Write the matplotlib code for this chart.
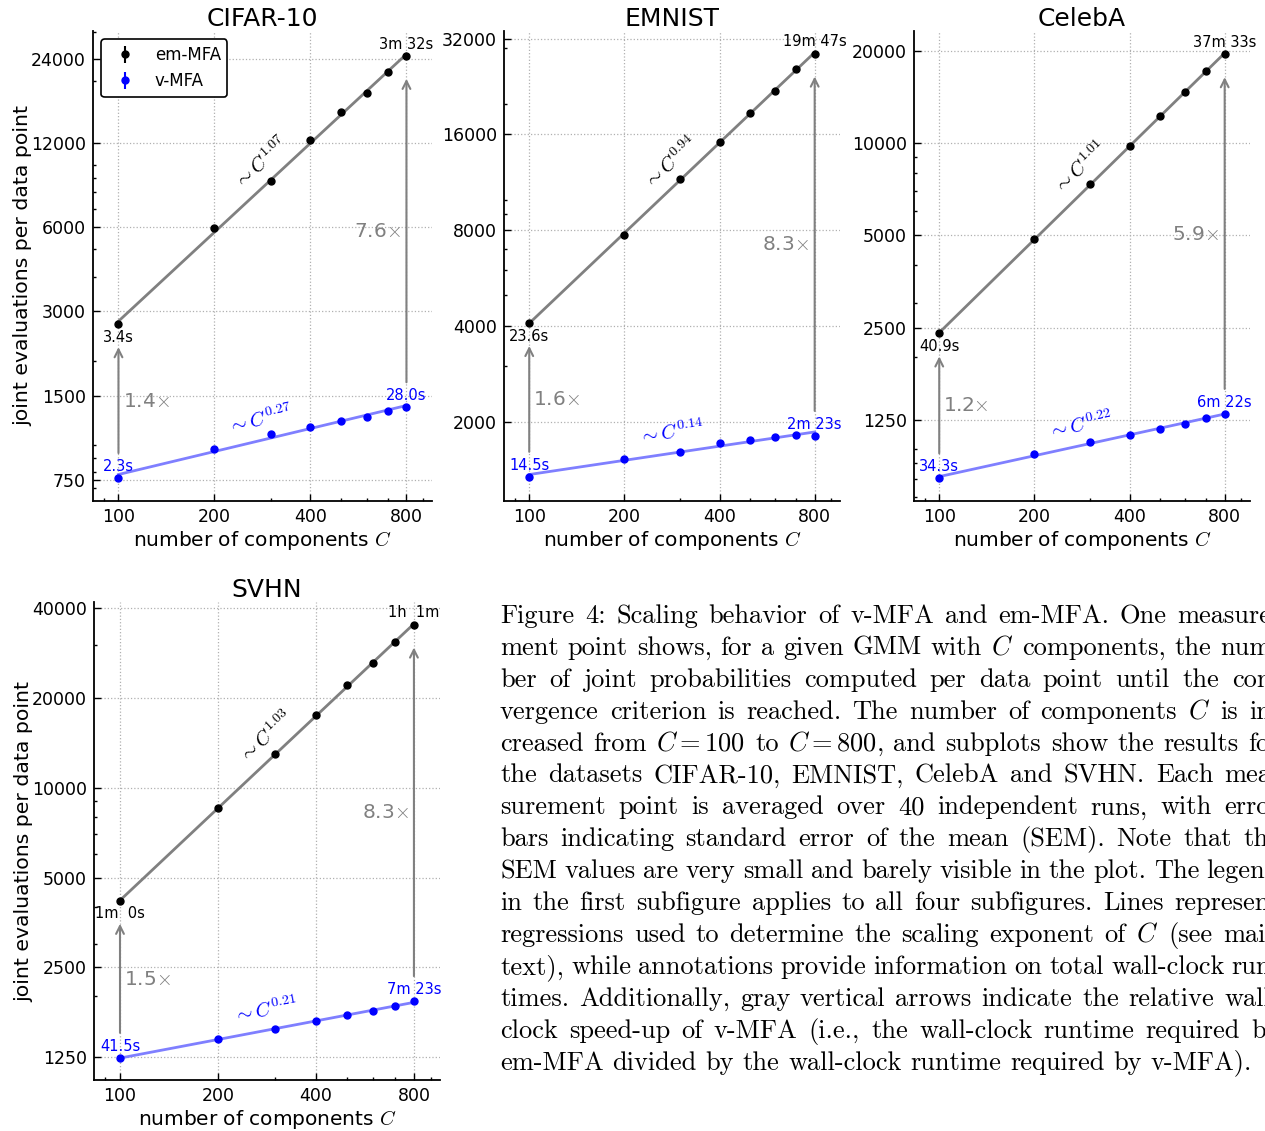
import numpy as np
import matplotlib
matplotlib.use('Agg')
import matplotlib.pyplot as plt
from matplotlib.ticker import FixedLocator, LogLocator, NullFormatter, FuncFormatter

plt.rcParams['mathtext.fontset'] = 'cm'

# ---- data ----
datasets = ['CIFAR-10', 'EMNIST', 'CelebA', 'SVHN']
components = [100, 200, 300, 400, 500, 600, 700, 800]

em_cifar = [2700, 5940, 8770, 12280, 15480, 18060, 21600, 24600]
v_cifar = [761, 965, 1092, 1156, 1219, 1263, 1324, 1363]
em_emnist = [4096, 7735, 11640, 15150, 18740, 21870, 25750, 28700]
v_emnist = [1348, 1533, 1610, 1722, 1762, 1794, 1822, 1812]
em_celeba = [2390, 4853, 7349, 9826, 12250, 14750, 17200, 19520]
v_celeba = [804, 968, 1058, 1114, 1162, 1210, 1270, 1305]
em_svhn = [4180, 8540, 12950, 17600, 22040, 26300, 30800, 35250]
v_svhn = [1245, 1439, 1551, 1652, 1728, 1787, 1861, 1928]
# SEM is too small to be seen in the plot
sem = [0, 0, 0, 0, 0, 0, 0, 0]

em_exponent = ['1.07', '0.94', '1.01', '1.03']
v_exponent = ['0.27', '0.14', '0.22', '0.21']
em_time_first = ['3.4s', '23.6s', '40.9s', '1m  0s']
em_time_last = ['3m 32s', '19m 47s', '37m 33s', '1h  1m']
v_time_first = ['2.3s', '14.5s', '34.3s', '41.5s']
v_time_last = ['28.0s', '2m 23s', '6m 22s', '7m 23s']
speedup_first = ['1.4', '1.6', '1.2', '1.5']
speedup_last = ['7.6', '8.3', '5.9', '8.3']

xticks = [100, 200, 400, 800]
yticks_cifar = [750, 1500, 3000, 6000, 12000, 24000]
yticks_emnist = [2000, 4000, 8000, 16000, 32000]
yticks_celeba = [1250, 2500, 5000, 10000, 20000]
yticks_svhn = [1250, 2500, 5000, 10000, 20000, 40000]

caption_lines = [
    "Figure 4: Scaling behavior of v-MFA and em-MFA. One measure-",
    "ment point shows, for a given GMM with $C$ components, the num-",
    "ber of joint probabilities computed per data point until the con-",
    "vergence criterion is reached. The number of components $C$ is in-",
    "creased from $C=100$ to $C=800$, and subplots show the results for",
    "the datasets CIFAR-10, EMNIST, CelebA and SVHN. Each mea-",
    "surement point is averaged over 40 independent runs, with error",
    "bars indicating standard error of the mean (SEM). Note that the",
    "SEM values are very small and barely visible in the plot. The legend",
    "in the first subfigure applies to all four subfigures. Lines represent",
    "regressions used to determine the scaling exponent of $C$ (see main",
    "text), while annotations provide information on total wall-clock run-",
    "times. Additionally, gray vertical arrows indicate the relative wall-",
    "clock speed-up of v-MFA (i.e., the wall-clock runtime required by",
    "em-MFA divided by the wall-clock runtime required by v-MFA).",
]

em_all = [em_cifar, em_emnist, em_celeba, em_svhn]
v_all = [v_cifar, v_emnist, v_celeba, v_svhn]
yticks_all = [yticks_cifar, yticks_emnist, yticks_celeba, yticks_svhn]
ylims = [(630, 30200), (1132, 33800), (678, 23250), (1049, 41960)]
xlim = (83.2, 962)

FIG_W, FIG_H = 1265, 1131
fig = plt.figure(figsize=(FIG_W / 100, FIG_H / 100), dpi=100)

# axes boxes in pixels: left, top, right, bottom
boxes = [(93, 31, 432, 501), (504, 31, 840, 501), (914, 31, 1250, 501), (94, 602, 440, 1080)]

GRAY = '#808080'
BLUE = '#0000ff'
LIGHTBLUE = '#7f7fff'


def px_box(b):
    l, t, r, btm = b
    return [l / FIG_W, 1 - btm / FIG_H, (r - l) / FIG_W, (btm - t) / FIG_H]


def fit_line(x, y):
    p = np.polyfit(np.log(x), np.log(y), 1)
    xs = np.array([x[0], x[-1]], dtype=float)
    return xs, np.exp(np.polyval(p, np.log(xs)))


for i, name in enumerate(datasets):
    ax = fig.add_axes(px_box(boxes[i]))
    ax.set_xscale('log', base=2)
    ax.set_yscale('log', base=2)
    ax.set_xlim(*xlim)
    ax.set_ylim(*ylims[i])

    em = em_all[i]
    v = v_all[i]
    fx_em, fy_em = fit_line(components, em)
    fx_v, fy_v = fit_line(components, v)

    ax.plot(fx_em, fy_em, color=GRAY, lw=2, zorder=2)
    ax.plot(fx_v, fy_v, color=LIGHTBLUE, lw=2, zorder=2)
    ax.errorbar(components, em, yerr=sem, fmt='o', color='k', ms=5,
                elinewidth=1.5, capsize=0, label='em-MFA', zorder=3)
    ax.errorbar(components, v, yerr=sem, fmt='o', color=BLUE, ms=5,
                elinewidth=1.5, capsize=0, label='v-MFA', zorder=3)

    # axes styling
    ax.xaxis.set_major_locator(FixedLocator(xticks))
    ax.yaxis.set_major_locator(FixedLocator(yticks_all[i]))
    ax.xaxis.set_major_formatter(FuncFormatter(lambda val, pos: '%d' % val))
    ax.yaxis.set_major_formatter(FuncFormatter(lambda val, pos: '%d' % val))
    ax.xaxis.set_minor_locator(LogLocator(base=10, subs=np.arange(1, 10)))
    ax.yaxis.set_minor_locator(LogLocator(base=10, subs=np.arange(1, 10)))
    ax.xaxis.set_minor_formatter(NullFormatter())
    ax.yaxis.set_minor_formatter(NullFormatter())
    ax.tick_params(which='both', direction='in', top=False, right=False, width=1)
    ax.tick_params(which='major', length=5, labelsize=12.5, pad=5)
    ax.tick_params(which='minor', length=2.5)
    for s in ['top', 'right']:
        ax.spines[s].set_visible(False)
    for s in ['left', 'bottom']:
        ax.spines[s].set_linewidth(1.3)
    ax.grid(True, which='major', linestyle=':', color='#b0b0b0', lw=0.9)
    ax.set_axisbelow(True)

    ax.set_title(name, fontsize=18, pad=1)
    ax.set_xlabel('number of components $C$', fontsize=14.5, labelpad=2)
    if i in (0, 3):
        ax.set_ylabel('joint evaluations per data point', fontsize=14.7, labelpad=-1)

    if i == 0:
        leg = ax.legend(loc='upper left', fontsize=12, frameon=True, fancybox=True,
                        framealpha=1, edgecolor='k', borderpad=0.4)
        leg.get_frame().set_linewidth(1.2)

    # wall-clock annotations
    c0, c1 = components[0], components[-1]
    ax.annotate(em_time_first[i], (c0, em[0]), xytext=(0, -4), textcoords='offset points',
                ha='center', va='top', fontsize=10.5, color='k')
    ax.annotate(em_time_last[i], (c1, em[-1]), xytext=(0, 3), textcoords='offset points',
                ha='center', va='bottom', fontsize=10.5, color='k')
    ax.annotate(v_time_first[i], (c0, v[0]), xytext=(0, 3), textcoords='offset points',
                ha='center', va='bottom', fontsize=10.5, color=BLUE)
    ax.annotate(v_time_last[i], (c1, v[-1]), xytext=(0, 3), textcoords='offset points',
                ha='center', va='bottom', fontsize=10.5, color=BLUE)

    # speed-up arrows
    for c, lo, hi, txt, side in [(c0, v[0], em[0], speedup_first[i], 'left'),
                                 (c1, v[-1], em[-1], speedup_last[i], 'right')]:
        ax.annotate('', xy=(c, hi), xytext=(c, lo),
                    arrowprops=dict(arrowstyle='->', color=GRAY, lw=1.5,
                                    shrinkA=18, shrinkB=16.5, mutation_scale=14))
        mid = np.sqrt(lo * hi)
        dx = 3 if side == 'left' else -4
        ax.annotate(txt + r'$\times$', (c, mid), xytext=(dx, 0), textcoords='offset points',
                    ha=side, va='center', fontsize=14.5, color=GRAY)

    # scaling exponents along the regression lines (along-line shift, normal offset)
    cm = np.sqrt(c0 * c1)
    for fx, fy, expo, col, along, d in [(fx_em, fy_em, em_exponent[i], 'k', 12, 13.5),
                                        (fx_v, fy_v, v_exponent[i], BLUE, 2, 14.5)]:
        p0 = ax.transData.transform((fx[0], fy[0]))
        p1 = ax.transData.transform((fx[1], fy[1]))
        ang = np.arctan2(p1[1] - p0[1], p1[0] - p0[0])
        ym = np.exp(np.interp(np.log(cm), np.log(fx), np.log(fy)))
        off = (np.cos(ang) * along - np.sin(ang) * d, np.sin(ang) * along + np.cos(ang) * d)
        ax.annotate(r'$\sim C^{%s}$' % expo, (cm, ym),
                    xytext=off, textcoords='offset points',
                    ha='center', va='center', rotation=np.degrees(ang),
                    rotation_mode='anchor', fontsize=14.5, color=col)

# ---- caption, justified like the LaTeX source (runs past the right edge as in the reference) ----
cap_x0, cap_y0, cap_dy, cap_w, cap_fs = 500, 623, 31.9, 780, 19
renderer = fig.canvas.get_renderer()
for k, line in enumerate(caption_lines):
    words = line.split()
    y = 1 - (cap_y0 + k * cap_dy) / FIG_H
    texts = [fig.text(0, y, w, fontsize=cap_fs, family='cmr10', va='baseline') for w in words]
    widths = [t.get_window_extent(renderer).width for t in texts]
    if k == len(caption_lines) - 1:
        gap = 0.333 * cap_fs * 100 / 72
    else:
        gap = (cap_w - sum(widths)) / (len(words) - 1)
    x = cap_x0
    for t, w in zip(texts, widths):
        t.set_x(x / FIG_W)
        x += w + gap

fig.savefig('out.png', dpi=100)
